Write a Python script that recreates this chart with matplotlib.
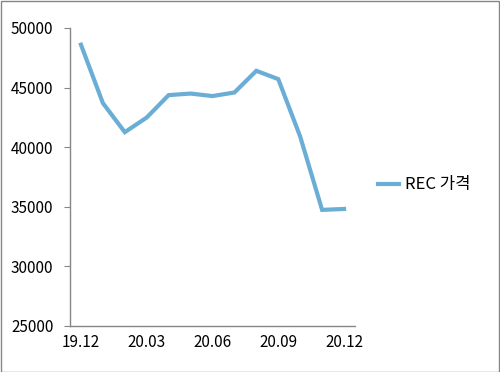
import matplotlib
matplotlib.use("Agg")
import matplotlib.pyplot as plt
from matplotlib.patches import Rectangle

plt.rcParams['font.family'] = ['Noto Sans CJK KR', 'DejaVu Sans']

categories = ['19.12', '20.01', '20.02', '20.03', '20.04', '20.05', '20.06',
              '20.07', '20.08', '20.09', '20.10', '20.11', '20.12']
rec_price = [48600, 43700, 41260, 42490, 44370, 44500, 44290,
             44590, 46410, 45710, 40890, 34740, 34820]
series_name = 'REC 가격'
y_ticks = [25000, 30000, 35000, 40000, 45000, 50000]
x_tick_labels = ['19.12', '20.03', '20.06', '20.09', '20.12']

W, H = 500, 372
fig = plt.figure(figsize=(W / 100, H / 100), dpi=100)
ax = fig.add_axes([70 / W, 1 - 326 / H, (355 - 70) / W, (326 - 28) / H])

x = list(range(len(categories)))
line, = ax.plot(x, rec_price, color='#6AADD5', lw=3.0, solid_joinstyle='miter',
                label=series_name)

ax.set_xlim(-0.5, len(categories) - 0.5)
ax.set_ylim(25000, 50000)
ax.set_yticks(y_ticks)
ax.set_yticklabels([str(v) for v in y_ticks])
tick_pos = [categories.index(l) for l in x_tick_labels]
ax.set_xticks(tick_pos)
ax.set_xticklabels(x_tick_labels)

for s in ['top', 'right']:
    ax.spines[s].set_visible(False)
for s in ['left', 'bottom']:
    ax.spines[s].set_color('#868686')
    ax.spines[s].set_linewidth(1.0)
ax.tick_params(axis='y', direction='out', length=4, color='#868686',
               labelsize=11, pad=8)
ax.tick_params(axis='x', length=0, labelsize=11, pad=6)

fig.legend(handles=[line], labels=[series_name], loc='center left',
           bbox_to_anchor=(363 / W, 1 - 185 / H), frameon=False,
           fontsize=12, handlelength=1.26, handletextpad=0.36)

fig.patches.append(Rectangle((0.5 / W, 0.5 / H), (W - 1.5) / W, (H - 1.5) / H,
                             transform=fig.transFigure, fill=False,
                             edgecolor='#868686', lw=1.0))

fig.savefig('out.png', dpi=100)
